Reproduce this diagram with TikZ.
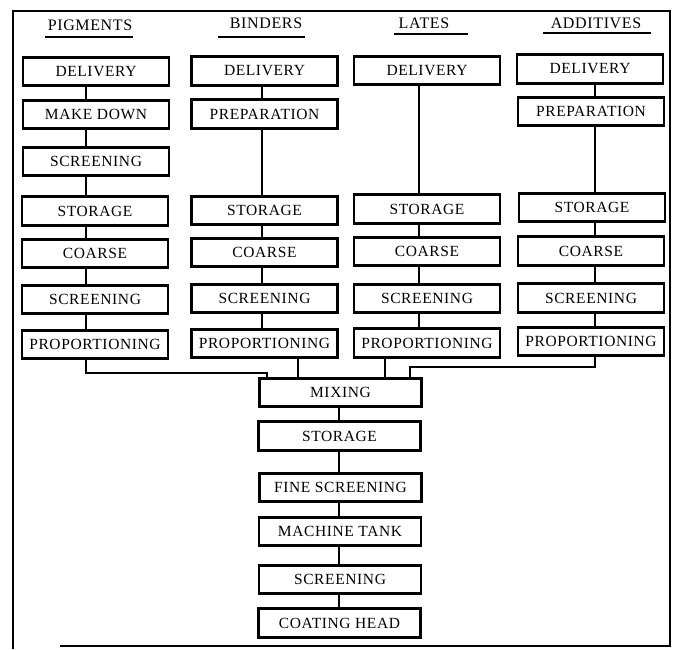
\documentclass[tikz,border=0pt]{standalone}
\usepackage{fontspec}
\setmainfont{Liberation Serif}[LetterSpace=4]
\begin{document}
\begin{tikzpicture}[x=1pt,y=-1pt,
  box/.style={draw, line width=2.6pt, inner sep=0pt, font=\fontsize{15.5}{15.5}\selectfont},
  cbox/.style={box, minimum width=146pt, minimum height=28.5pt},
  mbox/.style={box, minimum width=162pt, minimum height=28.5pt},
  conn/.style={line width=2.5pt},
  frame/.style={line width=2pt},
  head/.style={font=\fontsize{16}{16}\selectfont, inner sep=0pt},
  uline/.style={line width=2.6pt}]
\useasboundingbox (0,0) rectangle (676,649);
% frame
\draw[frame] (13,649) -- (13,11) -- (670,11) -- (670,646) -- (60,646);
% headers
\node[head] (h1) at (90,25) {PIGMENTS};
\node[head] (h2) at (266,23) {BINDERS};
\node[head] (h3) at (424,23) {LATES};
\node[head] (h4) at (596,23) {ADDITIVES};
\draw[uline] (45,37) -- (133,37);
\draw[uline] (218,37) -- (305,37);
\draw[uline] (394,34) -- (468,34);
\draw[uline] (543,33) -- (651,33);
% column 1
\node[cbox] (a1) at (96,71.5) {DELIVERY};
\node[cbox] (a2) at (96,114.5) {MAKE DOWN};
\node[cbox] (a3) at (96,161.5) {SCREENING};
\node[cbox] (a4) at (95,211) {STORAGE};
\node[cbox] (a5) at (95,253.5) {COARSE};
\node[cbox] (a6) at (95,299.5) {SCREENING};
\node[cbox] (a7) at (95,344.5) {PROPORTIONING};
% column 2
\node[cbox] (b1) at (264.5,71) {DELIVERY};
\node[cbox] (b2) at (264.5,114) {PREPARATION};
\node[cbox] (b4) at (264.5,210.5) {STORAGE};
\node[cbox] (b5) at (264.5,252.5) {COARSE};
\node[cbox] (b6) at (264.5,298.5) {SCREENING};
\node[cbox] (b7) at (264.5,343.5) {PROPORTIONING};
% column 3
\node[cbox] (c1) at (427,70.5) {DELIVERY};
\node[cbox] (c4) at (427,209) {STORAGE};
\node[cbox] (c5) at (427,251.5) {COARSE};
\node[cbox] (c6) at (427,298.5) {SCREENING};
\node[cbox] (c7) at (427,343) {PROPORTIONING};
% column 4
\node[cbox] (d1) at (590,69) {DELIVERY};
\node[cbox] (d2) at (591,111.5) {PREPARATION};
\node[cbox] (d4) at (592,207.5) {STORAGE};
\node[cbox] (d5) at (591,251) {COARSE};
\node[cbox] (d6) at (591,298) {SCREENING};
\node[cbox] (d7) at (591,341.5) {PROPORTIONING};
% main chain
\node[mbox] (m1) at (340.5,392.5) {MIXING};
\node[mbox] (m2) at (339.5,436) {STORAGE};
\node[mbox] (m3) at (340.5,487.5) {FINE SCREENING};
\node[mbox] (m4) at (340,531.5) {MACHINE TANK};
\node[mbox] (m5) at (340,579.5) {SCREENING};
\node[mbox] (m6) at (339.5,623) {COATING HEAD};
% connector x positions
\coordinate (xa) at (86,0);
\coordinate (xb) at (262,0);
\coordinate (xc) at (419,0);
\coordinate (xd) at (595,0);
\coordinate (xm) at (339,0);
\coordinate (ja) at (267,373);
\coordinate (jb) at (298,0);
\coordinate (jc) at (385,0);
\coordinate (jd) at (410,367);
% column 1 links
\draw[conn] (a1.south -| xa) -- (a2.north -| xa);
\draw[conn] (a2.south -| xa) -- (a3.north -| xa);
\draw[conn] (a3.south -| xa) -- (a4.north -| xa);
\draw[conn] (a4.south -| xa) -- (a5.north -| xa);
\draw[conn] (a5.south -| xa) -- (a6.north -| xa);
\draw[conn] (a6.south -| xa) -- (a7.north -| xa);
% column 2 links
\draw[conn] (b1.south -| xb) -- (b2.north -| xb);
\draw[conn] (b2.south -| xb) -- (b4.north -| xb);
\draw[conn] (b4.south -| xb) -- (b5.north -| xb);
\draw[conn] (b5.south -| xb) -- (b6.north -| xb);
\draw[conn] (b6.south -| xb) -- (b7.north -| xb);
% column 3 links
\draw[conn] (c1.south -| xc) -- (c4.north -| xc);
\draw[conn] (c4.south -| xc) -- (c5.north -| xc);
\draw[conn] (c5.south -| xc) -- (c6.north -| xc);
\draw[conn] (c6.south -| xc) -- (c7.north -| xc);
% column 4 links
\draw[conn] (d1.south -| xd) -- (d2.north -| xd);
\draw[conn] (d2.south -| xd) -- (d4.north -| xd);
\draw[conn] (d4.south -| xd) -- (d5.north -| xd);
\draw[conn] (d5.south -| xd) -- (d6.north -| xd);
\draw[conn] (d6.south -| xd) -- (d7.north -| xd);
% to mixing
\draw[conn] (a7.south -| xa) -- (xa |- ja) -- (ja) -- (m1.north -| ja);
\draw[conn] (b7.south -| jb) -- (m1.north -| jb);
\draw[conn] (c7.south -| jc) -- (m1.north -| jc);
\draw[conn] (d7.south -| xd) -- (xd |- jd) -- (jd) -- (m1.north -| jd);
% main chain links
\draw[conn] (m1.south -| xm) -- (m2.north -| xm);
\draw[conn] (m2.south -| xm) -- (m3.north -| xm);
\draw[conn] (m3.south -| xm) -- (m4.north -| xm);
\draw[conn] (m4.south -| xm) -- (m5.north -| xm);
\draw[conn] (m5.south -| xm) -- (m6.north -| xm);
\end{tikzpicture}
\end{document}
